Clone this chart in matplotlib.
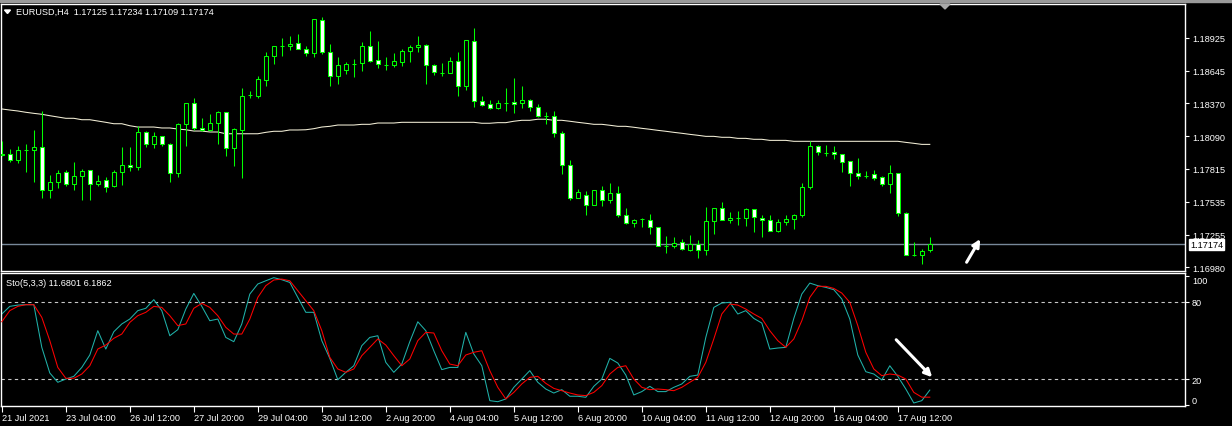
import matplotlib
matplotlib.use("Agg")
import numpy as np
import matplotlib.pyplot as plt
from matplotlib.patches import Polygon, Rectangle

plt.rcParams['font.family'] = ['Liberation Sans', 'DejaVu Sans']

# =====================================================
# DATA  (EURUSD H4)
# =====================================================

opens = [
    1.17939, 1.17939, 1.17889, 1.17973, 1.17973, 1.17999, 1.17634, 1.17702, 1.17787, 1.17685,
    1.17753, 1.17804, 1.17685, 1.17719, 1.17668, 1.17787, 1.17846, 1.17829, 1.18126, 1.18024,
    1.18092, 1.18024, 1.17778, 1.18194, 1.18372, 1.18160, 1.18143, 1.18202, 1.18295, 1.17990,
    1.18143, 1.18439, 1.18431, 1.18567, 1.18770, 1.18855, 1.18855, 1.18880, 1.18829, 1.18795,
    1.19075, 1.18804, 1.18600, 1.18651, 1.18702, 1.18711, 1.18855, 1.18736, 1.18694, 1.18694,
    1.18719, 1.18812, 1.18846, 1.18863, 1.18694, 1.18626, 1.18626, 1.18728, 1.18516, 1.18897,
    1.18389, 1.18363, 1.18329, 1.18372, 1.18380, 1.18372, 1.18397, 1.18338, 1.18261, 1.18261,
    1.18117, 1.17846, 1.17566, 1.17592, 1.17507, 1.17634, 1.17550, 1.17609, 1.17422, 1.17355,
    1.17388, 1.17380, 1.17321, 1.17160, 1.17160, 1.17194, 1.17126, 1.17177, 1.17126, 1.17372,
    1.17482, 1.17380, 1.17397, 1.17397, 1.17473, 1.17397, 1.17380, 1.17287, 1.17363, 1.17388,
    1.17422, 1.17660, 1.18007, 1.17948, 1.17956, 1.17939, 1.17880, 1.17778, 1.17753, 1.17770,
    1.17744, 1.17685, 1.17778, 1.17439, 1.17083, 1.17083, 1.17125,
]

highs = [
    1.18050, 1.17982, 1.18007, 1.18024, 1.18143, 1.18304, 1.17761, 1.17804, 1.17804, 1.17872,
    1.17812, 1.17804, 1.17761, 1.17744, 1.17804, 1.17999, 1.17999, 1.18177, 1.18134, 1.18126,
    1.18092, 1.18033, 1.18202, 1.18372, 1.18414, 1.18244, 1.18278, 1.18304, 1.18295, 1.18160,
    1.18499, 1.18473, 1.18600, 1.18804, 1.18855, 1.18922, 1.18939, 1.18956, 1.18855, 1.19083,
    1.19100, 1.18872, 1.18761, 1.18719, 1.18744, 1.18889, 1.18982, 1.18897, 1.18761, 1.18795,
    1.18829, 1.18863, 1.18939, 1.18872, 1.18702, 1.18711, 1.18761, 1.18804, 1.18906, 1.19007,
    1.18431, 1.18397, 1.18397, 1.18499, 1.18583, 1.18516, 1.18405, 1.18363, 1.18295, 1.18304,
    1.18134, 1.17889, 1.17643, 1.17626, 1.17634, 1.17668, 1.17694, 1.17668, 1.17482, 1.17388,
    1.17397, 1.17431, 1.17321, 1.17244, 1.17236, 1.17219, 1.17253, 1.17211, 1.17490, 1.17482,
    1.17533, 1.17448, 1.17456, 1.17482, 1.17473, 1.17422, 1.17422, 1.17388, 1.17422, 1.17431,
    1.17694, 1.18050, 1.18016, 1.18016, 1.18007, 1.17939, 1.17880, 1.17905, 1.17795, 1.17804,
    1.17753, 1.17846, 1.17778, 1.17448, 1.17194, 1.17134, 1.17234,
]

lows = [
    1.17922, 1.17872, 1.17863, 1.17787, 1.17702, 1.17566, 1.17566, 1.17651, 1.17668, 1.17634,
    1.17550, 1.17550, 1.17668, 1.17617, 1.17660, 1.17677, 1.17795, 1.17804, 1.17999, 1.17990,
    1.18007, 1.17702, 1.17744, 1.18007, 1.18143, 1.18134, 1.18134, 1.18024, 1.17922, 1.17838,
    1.17736, 1.18414, 1.18414, 1.18516, 1.18702, 1.18770, 1.18821, 1.18829, 1.18770, 1.18761,
    1.18787, 1.18516, 1.18533, 1.18617, 1.18592, 1.18643, 1.18719, 1.18668, 1.18651, 1.18677,
    1.18685, 1.18719, 1.18804, 1.18533, 1.18609, 1.18600, 1.18626, 1.18431, 1.18482, 1.18338,
    1.18346, 1.18321, 1.18321, 1.18304, 1.18287, 1.18329, 1.18304, 1.18253, 1.18194, 1.18083,
    1.17770, 1.17550, 1.17566, 1.17422, 1.17507, 1.17499, 1.17524, 1.17405, 1.17346, 1.17321,
    1.17321, 1.17261, 1.17160, 1.17100, 1.17143, 1.17126, 1.17117, 1.17058, 1.17083, 1.17261,
    1.17380, 1.17355, 1.17338, 1.17329, 1.17278, 1.17236, 1.17287, 1.17278, 1.17338, 1.17304,
    1.17405, 1.17643, 1.17931, 1.17922, 1.17897, 1.17787, 1.17668, 1.17727, 1.17736, 1.17719,
    1.17668, 1.17609, 1.17414, 1.17083, 1.17075, 1.17007, 1.17109,
]

closes = [
    1.17935, 1.17889, 1.17973, 1.17970, 1.17999, 1.17634, 1.17702, 1.17778, 1.17685, 1.17753,
    1.17795, 1.17685, 1.17711, 1.17660, 1.17787, 1.17846, 1.17829, 1.18126, 1.18024, 1.18092,
    1.18024, 1.17778, 1.18194, 1.18372, 1.18160, 1.18143, 1.18202, 1.18295, 1.17990, 1.18151,
    1.18431, 1.18439, 1.18575, 1.18770, 1.18855, 1.18855, 1.18872, 1.18829, 1.18795, 1.19083,
    1.18804, 1.18600, 1.18694, 1.18702, 1.18702, 1.18855, 1.18728, 1.18702, 1.18694, 1.18728,
    1.18812, 1.18846, 1.18863, 1.18694, 1.18634, 1.18626, 1.18728, 1.18516, 1.18906, 1.18389,
    1.18355, 1.18329, 1.18372, 1.18372, 1.18363, 1.18397, 1.18338, 1.18261, 1.18261, 1.18117,
    1.17846, 1.17566, 1.17617, 1.17507, 1.17634, 1.17550, 1.17609, 1.17422, 1.17355, 1.17380,
    1.17388, 1.17321, 1.17160, 1.17160, 1.17185, 1.17134, 1.17177, 1.17126, 1.17372, 1.17482,
    1.17380, 1.17397, 1.17397, 1.17473, 1.17405, 1.17380, 1.17287, 1.17363, 1.17388, 1.17422,
    1.17660, 1.18007, 1.17956, 1.17948, 1.17939, 1.17872, 1.17778, 1.17753, 1.17753, 1.17736,
    1.17685, 1.17778, 1.17439, 1.17083, 1.17083, 1.17117, 1.17174,
]

ma_line = [
    1.18321, 1.18312, 1.18304, 1.18293, 1.18284, 1.18276, 1.18264, 1.18253, 1.18242, 1.18242,
    1.18230, 1.18230, 1.18219, 1.18208, 1.18196, 1.18196, 1.18179, 1.18168, 1.18168, 1.18168,
    1.18160, 1.18160, 1.18151, 1.18145, 1.18134, 1.18134, 1.18126, 1.18126, 1.18111, 1.18111,
    1.18111, 1.18111, 1.18111, 1.18123, 1.18132, 1.18132, 1.18143, 1.18143, 1.18145, 1.18154,
    1.18168, 1.18174, 1.18185, 1.18185, 1.18185, 1.18191, 1.18191, 1.18202, 1.18202, 1.18202,
    1.18208, 1.18208, 1.18208, 1.18208, 1.18208, 1.18208, 1.18208, 1.18208, 1.18208, 1.18208,
    1.18200, 1.18200, 1.18205, 1.18205, 1.18217, 1.18225, 1.18225, 1.18234, 1.18234, 1.18225,
    1.18225, 1.18217, 1.18208, 1.18200, 1.18191, 1.18191, 1.18183, 1.18174, 1.18174, 1.18166,
    1.18157, 1.18149, 1.18140, 1.18132, 1.18123, 1.18115, 1.18106, 1.18098, 1.18089, 1.18089,
    1.18081, 1.18081, 1.18072, 1.18072, 1.18064, 1.18064, 1.18055, 1.18055, 1.18055, 1.18047,
    1.18047, 1.18047, 1.18047, 1.18047, 1.18047, 1.18047, 1.18047, 1.18047, 1.18047, 1.18047,
    1.18047, 1.18047, 1.18047, 1.18038, 1.18030, 1.18021, 1.18021,
]

sto_main = [
    70.5, 76.4, 77.4, 77.7, 77.7, 44.7, 24.9, 17.7, 20.2, 22.3,
    29.2, 38.8, 57.6, 43.4, 56.8, 62.8, 66.6, 73.1, 74.9, 81.6,
    73.1, 53.7, 58.4, 74.3, 86.4, 76.4, 65.3, 66.6, 52.4, 49.1,
    62.8, 85.9, 93.7, 96.2, 98.6, 97.0, 94.9, 83.3, 71.8, 71.8,
    49.9, 36.2, 19.7, 25.4, 30.5, 46.0, 52.4, 53.7, 33.1, 25.4,
    31.8, 49.1, 64.5, 57.6, 42.1, 27.5, 29.2, 29.2, 56.3, 39.6,
    30.5, 3.5, 2.7, 4.8, 13.8, 20.2, 26.7, 17.7, 12.5, 9.4,
    12.0, 6.9, 6.9, 6.1, 14.6, 20.2, 36.2, 32.6, 23.3, 7.9,
    10.5, 14.6, 10.5, 10.5, 13.8, 16.4, 22.3, 23.3, 52.4, 75.6,
    79.0, 79.5, 70.5, 73.1, 67.1, 63.5, 43.4, 44.2, 44.7, 67.1,
    85.9, 94.4, 92.4, 91.1, 89.3, 82.1, 66.6, 38.8, 25.9, 24.1,
    19.5, 30.5, 22.3, 12.5, 1.7, 3.5, 11.68,
]

sto_signal = [
    64.5, 73.1, 76.4, 77.7, 77.7, 67.9, 49.9, 29.2, 20.8, 20.8,
    24.1, 30.5, 43.4, 46.5, 51.7, 55.0, 64.0, 69.2, 71.8, 76.4,
    75.6, 69.2, 61.5, 62.8, 74.9, 78.7, 75.6, 69.2, 60.2, 55.0,
    55.0, 66.6, 83.3, 92.4, 96.8, 97.5, 96.2, 88.5, 80.8, 73.1,
    57.6, 37.0, 28.0, 25.4, 28.0, 38.3, 44.7, 51.2, 46.5, 38.3,
    30.5, 35.7, 49.9, 56.3, 55.8, 42.1, 31.8, 30.5, 38.8, 40.9,
    42.1, 26.7, 13.8, 4.8, 9.9, 16.4, 21.5, 22.3, 16.9, 13.0,
    11.2, 9.4, 7.9, 7.4, 9.9, 15.1, 24.1, 29.2, 30.5, 20.2,
    13.8, 12.0, 12.5, 12.0, 11.2, 13.8, 17.7, 21.5, 33.1, 51.2,
    70.5, 78.2, 77.4, 74.3, 70.5, 67.1, 57.6, 49.9, 44.7, 51.2,
    65.3, 83.3, 91.9, 91.9, 90.3, 86.7, 79.5, 61.5, 40.9, 28.0,
    22.8, 24.1, 23.3, 20.2, 9.9, 6.2, 6.19,
]

time_labels = [
    "21 Jul 2021", "23 Jul 04:00", "26 Jul 12:00", "27 Jul 20:00",
    "29 Jul 04:00", "30 Jul 12:00", "2 Aug 20:00", "4 Aug 04:00",
    "5 Aug 12:00", "6 Aug 20:00", "10 Aug 04:00", "11 Aug 12:00",
    "12 Aug 20:00", "16 Aug 04:00", "17 Aug 12:00",
]
label_step = 8  # bars between time labels

price_ticks = [1.18925, 1.18645, 1.18370, 1.18090, 1.17815, 1.17535, 1.17255, 1.16980]
sto_levels = [20, 80]
last_price = 1.17174

header = "EURUSD,H4  1.17125 1.17234 1.17109 1.17174"
sto_title = "Sto(5,3,3) 11.6801 6.1862"

# hand drawn arrows (tail, head)
arrow_price = ((120.6, 1.17022), (122.3, 1.17219))
arrow_sto = ((111.8, 50.6), (116.3, 21.6))

# =====================================================
# FIGURE
# =====================================================

W, H = 1232, 427
fig = plt.figure(figsize=(W / 100, H / 100), dpi=100, facecolor="black")

def px_box(x0, y0, x1, y1):
    return [x0 / W, 1 - y1 / H, (x1 - x0) / W, (y1 - y0) / H]

ax = fig.add_axes(px_box(0.5, 4.5, 1185, 271.5), facecolor="black")
ax2 = fig.add_axes(px_box(0.5, 274, 1185, 406.7), facecolor="black")

n = len(opens)
x = np.arange(n)
o = np.array(opens)
h = np.array(highs)
l = np.array(lows)
c = np.array(closes)

lime = "#00FF00"
px_lw = 0.75

# =====================================================
# PRICE PANEL
# =====================================================

ax.axhline(last_price, color="#778899", lw=1.0, zorder=1)

ax.plot(x, ma_line, color="#F4F0D8", lw=px_lw, zorder=2)

ax.vlines(x, l, h, color=lime, lw=px_lw, zorder=3)

bull = c >= o
ax.bar(x[bull], (c - o)[bull], bottom=o[bull], width=0.5,
       color="black", edgecolor=lime, linewidth=px_lw, zorder=4)
ax.bar(x[~bull], (o - c)[~bull], bottom=c[~bull], width=0.5,
       color="white", edgecolor=lime, linewidth=px_lw, zorder=4)

ax.annotate("", xy=arrow_price[1], xytext=arrow_price[0],
            arrowprops=dict(arrowstyle="-|>", color="white", lw=2.2,
                            mutation_scale=11, shrinkA=0, shrinkB=0),
            zorder=6)

xlim = (-1.3 / 8, (1184.5 - 1.3) / 8)
ax.set_xlim(*xlim)
ax.set_ylim(1.19253 - 271.5 / 11800, 1.19253 - 4.5 / 11800)

ax.set_xticks([])
ax.yaxis.tick_right()
ax.set_yticks(price_ticks)
ax.set_yticklabels([f"{p:.5f}" for p in price_ticks])
ax.tick_params(axis="y", colors="white", length=3, width=0.8,
               labelsize=6.6, pad=2)

ax.text(1.0045, last_price, f"{last_price:.5f}",
        transform=ax.get_yaxis_transform(), fontsize=6.6, color="black",
        va="center", ha="left", clip_on=False,
        bbox=dict(boxstyle="square,pad=0.1", fc="white", ec="white"))

for s in ax.spines.values():
    s.set_color("white")
    s.set_linewidth(1.0)

# =====================================================
# STOCHASTIC PANEL
# =====================================================

for lvl in sto_levels:
    ax2.axhline(lvl, color="#C8C8C8", lw=0.8, ls=(0, (3, 3)), zorder=1)

ax2.plot(x, sto_main, color="#20B2AA", lw=px_lw, zorder=2)
ax2.plot(x, sto_signal, color="#FF0000", lw=px_lw, zorder=3)

ax2.annotate("", xy=arrow_sto[1], xytext=arrow_sto[0],
             arrowprops=dict(arrowstyle="-|>", color="white", lw=2.2,
                             mutation_scale=11, shrinkA=0, shrinkB=0),
             zorder=6)

ax2.set_xlim(*xlim)
ax2.set_ylim(-0.4, 102.2)

ax2.yaxis.tick_right()
ax2.set_yticks([0, 20, 80, 100])
ax2.set_yticklabels(["0", "20", "80", "100"])
ax2.tick_params(axis="y", colors="white", length=3, width=0.8,
                labelsize=6.6, pad=2)
ylab = ax2.get_yticklabels()
ylab[0].set_va("bottom")
ylab[3].set_va("top")

ax2.set_xticks(np.arange(len(time_labels)) * label_step)
ax2.set_xticklabels(time_labels)
ax2.tick_params(axis="x", colors="white", length=4, width=0.8,
                labelsize=6.6, pad=1.5)
for lbl in ax2.get_xticklabels():
    lbl.set_ha("left")

for s in ax2.spines.values():
    s.set_color("white")
    s.set_linewidth(1.0)

# =====================================================
# DECORATION
# =====================================================

fig.patches.append(Rectangle((0, 1 - 2.5 / H), 1, 2.5 / H,
                             transform=fig.transFigure,
                             color="#9A9A9A", zorder=0))

tri = [(4.5, 11), (10.5, 11), (7.5, 14.5)]
fig.patches.append(Polygon([(a / W, 1 - b / H) for a, b in tri],
                           transform=fig.transFigure, color="white"))

shift = [(940, 5), (950, 5), (945, 10)]
fig.patches.append(Polygon([(a / W, 1 - b / H) for a, b in shift],
                           transform=fig.transFigure, color="#A8A8A8"))

fig.text(16 / W, 1 - 12.7 / H, header, color="white", fontsize=6.6,
         va="center", ha="left")

ax2.text(5 / 1184.5, 1 - (284 - 274) / 132.7, sto_title,
         transform=ax2.transAxes, color="white", fontsize=6.6,
         va="center", ha="left")

plt.savefig("out.png", dpi=100, facecolor="black")
